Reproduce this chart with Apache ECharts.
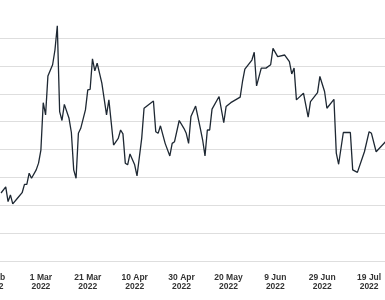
<!DOCTYPE html>
<html>
<head>
<meta charset="utf-8">
<script src="https://cdn.jsdelivr.net/npm/echarts@6/dist/echarts.min.js"></script>
<style>
html,body{margin:0;padding:0;background:#fff;}
#chart{width:385px;height:300px;}
</style>
</head>
<body>
<div id="chart"></div>
<script>
var startDate = '2022-02-09';
var dates = ['2022-02-12','2022-02-14','2022-02-15','2022-02-16','2022-02-17','2022-02-19','2022-02-21','2022-02-22','2022-02-23','2022-02-24','2022-02-25','2022-02-27','2022-02-28',
'2022-03-01','2022-03-02','2022-03-03','2022-03-04','2022-03-06','2022-03-07','2022-03-08','2022-03-09','2022-03-10','2022-03-11','2022-03-13','2022-03-14','2022-03-15','2022-03-16','2022-03-17','2022-03-18','2022-03-20','2022-03-21','2022-03-22','2022-03-23','2022-03-24','2022-03-25','2022-03-27','2022-03-29','2022-03-30',
'2022-04-01','2022-04-03','2022-04-04','2022-04-05','2022-04-06','2022-04-07','2022-04-08','2022-04-10','2022-04-11','2022-04-13','2022-04-14','2022-04-18','2022-04-19','2022-04-20','2022-04-21','2022-04-23','2022-04-25','2022-04-26','2022-04-27','2022-04-29',
'2022-05-01','2022-05-02','2022-05-03','2022-05-04','2022-05-06','2022-05-08','2022-05-09','2022-05-10','2022-05-11','2022-05-12','2022-05-13','2022-05-16','2022-05-18','2022-05-19','2022-05-21','2022-05-25','2022-05-26','2022-05-27','2022-05-30','2022-05-31',
'2022-06-01','2022-06-03','2022-06-05','2022-06-07','2022-06-08','2022-06-10','2022-06-13','2022-06-15','2022-06-16','2022-06-17','2022-06-18','2022-06-19','2022-06-21','2022-06-23','2022-06-24','2022-06-27','2022-06-28','2022-06-30',
'2022-07-01','2022-07-04','2022-07-05','2022-07-06','2022-07-08','2022-07-11','2022-07-12','2022-07-14','2022-07-17','2022-07-19','2022-07-20','2022-07-22','2022-07-26'];
var values = [24.4,26.6,21.3,23.7,20.5,22.5,24.5,27.5,27.5,31.5,29.7,32.7,35.1,
39.8,56.8,52.4,66.4,70.4,75.7,84.4,53.6,50.4,56.2,51.2,46.1,32.7,29.7,45.8,47.6,54.2,61.4,61.6,72.5,68.2,71.0,63.8,52.4,57.8,
41.6,44.0,47.0,45.6,35.1,34.5,38.4,34.5,30.5,44.0,54.8,57.4,46.4,45.8,48.5,42.2,37.7,42.2,42.8,50.4,
47.6,45.8,42.2,51.8,55.6,47.6,43.4,37.7,47.0,47.0,54.5,59.0,49.6,55.4,56.8,58.8,64.4,68.8,72.1,74.9,
62.8,69.2,69.2,70.4,76.3,73.3,73.9,71.5,67.1,69.2,57.8,58.6,60.2,51.6,57.2,60.4,66.2,60.8,
54.8,58.0,38.7,34.7,46.1,46.1,32.7,31.8,39.2,46.4,45.8,39.2,42.8];
var months = ['Jan','Feb','Mar','Apr','May','Jun','Jul','Aug','Sep','Oct','Nov','Dec'];

var DAY = 86400000;
function toMs(s){var p=s.split('-');return Date.UTC(+p[0],+p[1]-1,+p[2]);}
var t0 = toMs(startDate);
var seriesData = dates.map(function(d,i){return [(toMs(d)-t0)/DAY, values[i]];});

var chart = echarts.init(document.getElementById('chart'));
chart.setOption({
  backgroundColor:'#ffffff',
  animation:false,
  grid:{left:-6,right:-31,top:38,bottom:39,containLabel:false,outerBoundsMode:'none'},
  xAxis:{
    type:'value', min:0, max:180, interval:20,
    axisLine:{show:false}, axisTick:{show:false}, splitLine:{show:false},
    axisLabel:{
      margin:12, fontSize:8.5, fontWeight:'bold', color:'#333', lineHeight:9,
      fontFamily:'Liberation Sans', hideOverlap:false,
      formatter:function(v){var d=new Date(t0+v*DAY);return d.getUTCDate()+' '+months[d.getUTCMonth()]+'\n'+d.getUTCFullYear();}
    }
  },
  yAxis:{
    type:'value', min:0, max:80, interval:10,
    axisLine:{show:false}, axisTick:{show:false}, axisLabel:{show:false},
    splitLine:{lineStyle:{color:'#dedede',width:1}}
  },
  series:[{
    type:'line', data:seriesData, showSymbol:false, clip:false,
    lineStyle:{color:'#1e2833',width:1.3}
  }]
});
</script>
</body>
</html>
